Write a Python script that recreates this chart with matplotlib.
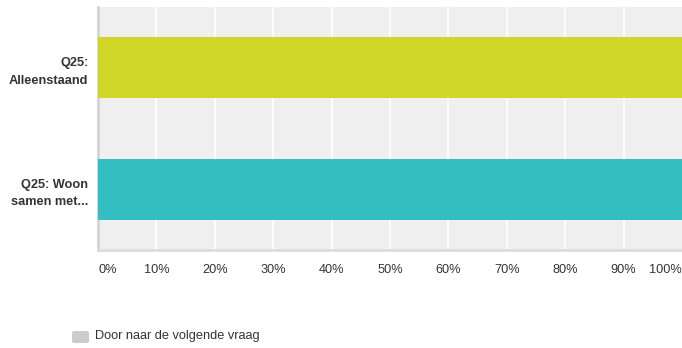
import matplotlib.pyplot as plt
from matplotlib.patches import FancyBboxPatch

categories = ['Q25:\nAlleenstaand', 'Q25: Woon\nsamen met...']
values = [100, 100]
bar_colors = ['#cfd628', '#33bec1']
ticks = [0, 10, 20, 30, 40, 50, 60, 70, 80, 90, 100]
tick_labels = [f'{t}%' for t in ticks]
legend_label = 'Door naar de volgende vraag'

plt.rcParams['font.family'] = ['Liberation Sans', 'DejaVu Sans']

fig = plt.figure(figsize=(6.82, 3.48), dpi=100)
W, H = 682, 348
ax = fig.add_axes([98 / W, 1 - 250 / H, 584 / W, 243 / H])
ax.set_facecolor('#efefef')

ypos = list(range(len(categories)))
ax.barh(ypos, values, height=0.5, color=bar_colors, zorder=3)
ax.set_ylim(1.5, -0.5)
ax.set_xlim(0, 100)

# white vertical gridlines
for t in ticks[1:-1]:
    ax.axvline(t, color='white', lw=1.2, zorder=1)

for s in ['top', 'right']:
    ax.spines[s].set_visible(False)
ax.spines['left'].set_color('#d4d4d4')
ax.spines['left'].set_linewidth(2)
ax.spines['bottom'].set_color('#dcdcdc')
ax.spines['bottom'].set_linewidth(2)

ax.set_yticks(ypos)
ax.set_yticklabels(categories, fontsize=9.2, fontweight='bold', color='#333333',
                   linespacing=1.6)
ax.tick_params(axis='y', length=0, pad=7)

ax.set_xticks(ticks)
ax.set_xticklabels(tick_labels, fontsize=9.2, color='#333333')
ax.tick_params(axis='x', length=0, pad=10)
labels = ax.get_xticklabels()
labels[0].set_horizontalalignment('left')
labels[-1].set_horizontalalignment('right')

# legend entry at the bottom
fig.patches.append(FancyBboxPatch((72 / W, 1 - 343 / H), 17 / W, 12 / H,
                                  boxstyle='round,pad=0,rounding_size=0.004',
                                  transform=fig.transFigure, facecolor='#cccccc',
                                  edgecolor='none'))
fig.text(95 / W, 1 - 336 / H, legend_label, fontsize=9.2, color='#333333',
         va='center', ha='left')

fig.savefig('out.png', dpi=100)
